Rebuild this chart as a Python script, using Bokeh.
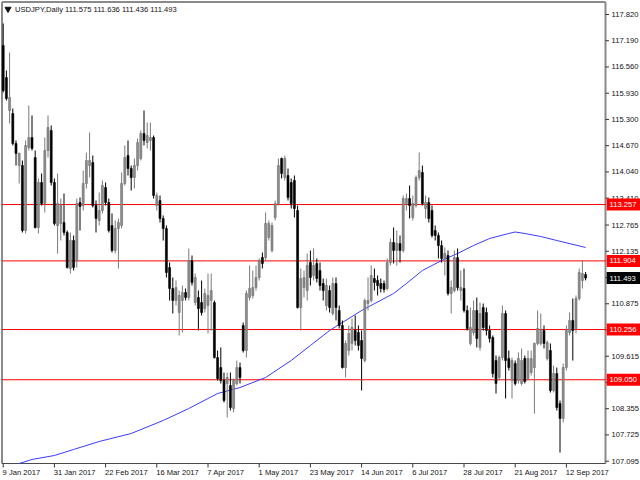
from bokeh.plotting import figure
from bokeh.models import Range1d
from bokeh.embed import file_html
from bokeh.resources import INLINE
from bokeh.core.properties import value

title_text = "USDJPY,Daily  111.575 111.636 111.436 111.493"

opens = [117.075, 116.307, 115.515, 115.443, 114.723, 114.194, 114.194, 112.634, 114.627, 114.867,
         114.386, 112.706, 113.786, 113.282, 114.554, 115.035, 113.786, 112.754, 112.802, 112.826,
         112.586, 111.721, 112.394, 111.913, 113.306, 113.234, 113.762, 114.194, 114.266, 113.234,
         112.874, 113.114, 113.666, 113.306, 112.754, 112.153, 112.682, 112.754, 113.762, 114.434,
         114.122, 113.906, 114.194, 114.362, 114.963, 114.747, 114.795, 114.867, 113.234, 113.354,
         112.922, 112.682, 111.745, 111.241, 110.953, 110.665, 110.953, 111.145, 111.025, 111.913,
         110.905, 111.025, 110.905, 110.761, 110.833, 110.953, 110.905, 109.584, 109.344, 109.032,
         108.960, 108.912, 108.360, 108.960, 109.344, 110.353, 109.752, 111.025, 111.073, 111.265,
         111.505, 111.985, 111.985, 112.466, 112.153, 112.946, 113.282, 114.362, 113.906, 113.954,
         113.786, 113.834, 113.114, 110.785, 111.265, 111.193, 111.865, 111.553, 111.841, 111.673,
         111.361, 110.833, 111.193, 110.641, 111.361, 110.713, 110.353, 109.344, 109.752, 109.921,
         110.233, 110.185, 109.993, 109.512, 110.881, 110.953, 111.481, 111.433, 111.361, 111.361,
         111.241, 111.865, 112.346, 112.153, 112.322, 112.153, 113.282, 113.402, 112.946, 113.234,
         113.906, 114.026, 113.162, 113.306, 113.114, 112.634, 112.514, 112.274, 111.961, 112.033,
         111.121, 111.193, 111.985, 111.193, 111.241, 110.713, 109.921, 110.185, 110.713, 109.825,
         110.785, 110.665, 110.233, 110.065, 109.512, 109.104, 109.584, 110.641, 109.560, 109.032,
         109.440, 109.032, 108.960, 109.560, 109.080, 109.224, 109.344, 109.921, 109.921, 110.233,
         109.560, 109.752, 108.792, 109.200, 108.480, 108.120, 109.344, 110.185, 110.473, 110.281,
         111.001, 111.433, 111.575]
highs = [117.604, 116.475, 116.907, 115.563, 114.795, 114.506, 114.314, 114.795, 115.635, 115.395,
         114.554, 113.882, 114.002, 114.867, 115.395, 115.155, 113.882, 114.002, 113.402, 113.522,
         112.634, 112.586, 112.514, 113.402, 113.426, 114.074, 114.506, 114.987, 114.434, 113.354,
         113.546, 113.834, 113.786, 113.402, 113.042, 112.874, 112.922, 114.026, 114.675, 114.795,
         114.194, 114.362, 114.843, 115.035, 115.515, 115.227, 115.227, 114.915, 113.546, 113.474,
         112.994, 112.754, 111.865, 111.505, 111.433, 111.193, 111.313, 111.241, 112.202, 112.033,
         111.601, 111.193, 111.433, 111.241, 111.601, 111.601, 110.953, 109.752, 109.825, 109.224,
         109.224, 109.224, 109.080, 109.512, 109.464, 110.425, 111.193, 111.793, 111.673, 111.793,
         111.961, 112.105, 113.066, 112.874, 112.826, 113.354, 114.362, 114.386, 114.434, 114.122,
         113.882, 113.954, 113.234, 111.721, 111.673, 112.081, 112.153, 112.202, 111.961, 111.865,
         111.481, 111.481, 111.313, 111.505, 111.505, 110.833, 110.473, 109.993, 110.353, 110.521,
         110.593, 110.353, 110.233, 111.001, 111.505, 111.793, 111.721, 111.553, 111.481, 111.433,
         111.961, 112.442, 112.706, 112.634, 112.514, 113.474, 113.522, 113.714, 113.474, 113.954,
         114.506, 114.194, 113.474, 113.426, 113.234, 112.754, 112.586, 112.394, 112.226, 112.153,
         111.433, 112.153, 112.202, 111.673, 111.721, 110.833, 110.785, 110.953, 111.025, 110.905,
         110.881, 110.785, 110.353, 110.113, 109.632, 109.632, 110.833, 110.713, 109.752, 109.584,
         109.512, 109.704, 109.801, 109.632, 109.752, 109.752, 109.945, 110.713, 110.641, 110.353,
         109.993, 109.921, 109.392, 109.344, 108.552, 109.440, 110.353, 110.665, 111.001, 111.073,
         111.721, 111.913, 111.636]
lows = [115.947, 115.755, 115.203, 114.675, 114.194, 113.762, 112.586, 112.562, 114.554, 114.554,
        112.682, 112.562, 113.234, 113.066, 114.386, 113.714, 112.754, 112.081, 112.394, 112.514,
        111.721, 111.601, 111.673, 111.745, 112.634, 113.114, 113.642, 113.906, 113.186, 112.586,
        112.754, 113.042, 113.234, 112.586, 112.105, 112.081, 111.721, 112.682, 113.714, 113.954,
        113.594, 113.642, 114.074, 114.314, 114.675, 114.603, 114.554, 113.402, 113.114, 112.826,
        112.394, 111.505, 110.953, 110.641, 110.833, 110.113, 110.185, 110.953, 110.953, 111.313,
        110.833, 110.233, 110.593, 110.665, 110.161, 110.233, 109.560, 109.032, 108.960, 108.504,
        108.144, 108.312, 108.264, 108.912, 108.960, 109.704, 109.584, 110.953, 111.001, 111.193,
        111.433, 111.721, 111.913, 112.394, 112.105, 112.874, 113.234, 113.882, 113.834, 113.354,
        113.162, 112.946, 110.761, 110.233, 111.025, 110.953, 111.313, 111.433, 111.385, 111.193,
        110.953, 110.713, 110.665, 110.593, 110.473, 110.281, 109.320, 109.104, 109.632, 109.752,
        109.873, 109.752, 108.792, 109.464, 110.713, 110.905, 111.193, 111.073, 111.145, 111.145,
        111.193, 111.793, 111.841, 111.793, 111.865, 112.105, 113.114, 112.922, 112.874, 113.186,
        113.834, 113.234, 112.922, 112.826, 112.466, 112.394, 111.961, 111.865, 111.553, 111.073,
        110.641, 111.145, 111.193, 110.953, 110.665, 110.233, 109.873, 110.113, 109.825, 109.752,
        110.233, 110.113, 109.945, 109.104, 108.720, 109.032, 109.512, 108.600, 109.272, 108.600,
        108.912, 108.960, 108.912, 108.960, 109.032, 109.152, 108.240, 109.873, 109.873, 109.801,
        109.512, 108.744, 108.744, 108.312, 107.303, 108.024, 109.272, 110.113, 109.512, 110.161,
        110.953, 111.241, 111.436]
closes = [115.995, 115.803, 115.827, 114.723, 114.482, 114.482, 112.634, 114.675, 114.867, 114.603,
          112.706, 113.786, 113.282, 114.554, 115.107, 113.786, 112.802, 113.282, 113.234, 112.586,
          111.745, 112.394, 111.745, 113.282, 113.210, 113.762, 114.314, 114.314, 113.234, 112.922,
          113.114, 113.714, 113.306, 112.634, 112.153, 112.682, 112.826, 113.762, 114.386, 114.122,
          113.906, 114.194, 114.747, 114.963, 114.795, 114.915, 114.867, 113.474, 113.474, 112.922,
          112.682, 111.625, 111.241, 110.953, 111.265, 111.073, 111.145, 111.025, 111.913, 111.385,
          111.505, 110.761, 110.665, 111.121, 111.073, 111.193, 109.584, 109.080, 109.032, 108.552,
          109.104, 108.384, 109.032, 109.344, 109.104, 109.752, 111.121, 111.241, 111.265, 111.505,
          111.913, 111.841, 112.802, 112.802, 112.754, 113.282, 114.194, 114.002, 114.362, 113.426,
          113.282, 113.162, 110.785, 111.481, 111.505, 111.793, 111.505, 111.793, 111.481, 111.313,
          111.193, 111.313, 110.785, 111.361, 110.785, 110.353, 109.344, 109.921, 110.161, 110.305,
          109.993, 109.873, 109.560, 110.953, 110.953, 111.553, 111.385, 111.313, 111.241, 111.217,
          111.865, 112.346, 112.153, 112.322, 112.153, 113.402, 113.402, 113.234, 113.282, 113.906,
          114.074, 113.282, 113.306, 112.922, 112.514, 112.514, 112.274, 111.961, 112.081, 111.121,
          111.265, 111.985, 111.265, 111.265, 110.713, 110.281, 110.305, 110.713, 110.041, 110.641,
          110.305, 110.233, 110.041, 109.200, 108.960, 109.584, 110.641, 109.512, 109.344, 109.512,
          108.960, 109.560, 109.512, 109.008, 109.560, 109.560, 109.921, 110.281, 110.233, 109.921,
          109.945, 108.792, 109.200, 108.384, 108.120, 109.344, 110.233, 110.473, 110.233, 111.001,
          111.625, 111.601, 111.493]

ma_index = [5, 9, 16, 22, 30, 40, 50, 58, 67, 74, 82, 90, 96, 102, 112, 122, 126, 131, 137,
            142, 147, 152, 158, 160, 163, 168, 173, 182]
ma_value = [107.040, 107.136, 107.232, 107.376, 107.568, 107.760, 108.072, 108.360, 108.720,
            108.864, 109.104, 109.513, 109.873, 110.233, 110.713, 111.121, 111.361, 111.673,
            111.913, 112.082, 112.274, 112.442, 112.562, 112.598, 112.562, 112.490, 112.394, 112.226]

level_prices = [113.257, 111.904, 110.256, 109.050]
level_labels = ["113.257", "111.904", "110.256", "109.050"]
last_price = 111.493
last_label = "111.493"

y_ticks = [117.820, 117.190, 116.560, 115.930, 115.300, 114.670, 114.040, 113.410, 112.765,
           112.135, 111.505, 110.875, 110.245, 109.615, 108.985, 108.355, 107.725, 107.095]
y_tick_labels = ["117.820", "117.190", "116.560", "115.930", "115.300", "114.670", "114.040",
                 "113.410", "112.765", "112.135", "111.505", "110.875", "110.245", "109.615",
                 "108.985", "108.355", "107.725", "107.095"]
x_tick_index = [0, 16, 32, 48, 64, 80, 96, 112, 128, 144, 160, 176]
x_tick_labels = ["9 Jan 2017", "31 Jan 2017", "22 Feb 2017", "16 Mar 2017", "7 Apr 2017",
                 "1 May 2017", "23 May 2017", "14 Jun 2017", "6 Jul 2017", "28 Jul 2017",
                 "21 Aug 2017", "12 Sep 2017"]

# ---- layout (pixel geometry converted through the scales) ----
W, H = 640, 480
PX = 1 / 3.2        # bars per pixel
PY = 1 / 41.65      # price per pixel
X_START = -2.7 * PX
X_END = X_START + W * PX
Y_END = 118.156
Y_START = Y_END - H * PY
L = X_START + 1.5 * PX
R = X_START + 605 * PX
T = Y_END - 1.5 * PY
B = Y_END - 463 * PY

FONT = value("Liberation Sans")
TXT = "#111111"
BULL = "#8c8c8c"
BULL_EDGE = "#6e6e6e"
BEAR = "#000000"

p = figure(width=W, height=H, x_range=Range1d(X_START, X_END), y_range=Range1d(Y_START, Y_END),
           output_backend="svg", toolbar_location=None, x_axis_type=None, y_axis_type=None,
           min_border=0)
p.styles = {"position": "absolute", "left": "0px", "top": "0px"}
p.background_fill_color = "white"
p.border_fill_color = "white"
p.outline_line_color = None
p.grid.visible = False

# chart border
p.segment(x0=[L, L], y0=[B, T], x1=[L, R], y1=[T, T], line_color="#8a8a8a", line_width=2)
p.segment(x0=[R], y0=[B], x1=[R], y1=[T], line_color="#8a8a8a", line_width=2)
p.segment(x0=[L], y0=[B], x1=[R], y1=[B], line_color="#4a4a4a", line_width=1)

# price scale (right)
p.segment(x0=[R] * len(y_ticks), y0=y_ticks, x1=[R + 3.5 * PX] * len(y_ticks), y1=y_ticks,
          line_color="#333333", line_width=1)
p.text(x=[R + 6 * PX] * len(y_ticks), y=y_ticks, text=y_tick_labels, text_font=FONT,
       text_font_size="7.6px", text_baseline="middle", text_align="left", text_color=TXT)

# time scale (bottom)
p.segment(x0=x_tick_index, y0=[B] * len(x_tick_index), x1=x_tick_index,
          y1=[B - 4 * PY] * len(x_tick_index), line_color="#333333", line_width=1)
p.text(x=[t - 0.2 for t in x_tick_index], y=[B - 4.5 * PY] * len(x_tick_index),
       text=x_tick_labels, text_font=FONT, text_font_size="7.6px", text_baseline="top",
       text_align="left", text_color=TXT)

# horizontal levels
p.segment(x0=[L] * len(level_prices), y0=level_prices, x1=[R] * len(level_prices),
          y1=level_prices, line_color="#ff0000", line_width=1)

# moving average
p.line(ma_index, ma_value, line_color="#3b3bff", line_width=1)

# candles
n = len(opens)
xs = list(range(n))
up_idx = [i for i in xs if closes[i] >= opens[i]]
dn_idx = [i for i in xs if closes[i] < opens[i]]


def col(arr, idx):
    return [arr[i] for i in idx]


p.segment(x0=up_idx, y0=col(highs, up_idx), x1=up_idx, y1=col(lows, up_idx),
          line_color="#7a7a7a", line_width=1)
p.segment(x0=dn_idx, y0=col(highs, dn_idx), x1=dn_idx, y1=col(lows, dn_idx),
          line_color=BEAR, line_width=1)
p.vbar(x=up_idx, width=0.62, top=col(closes, up_idx), bottom=col(opens, up_idx),
       fill_color=BULL, line_color=BULL_EDGE, line_width=0.6)
p.vbar(x=dn_idx, width=0.62, top=col(opens, dn_idx), bottom=col(closes, dn_idx),
       fill_color=BEAR, line_color=BEAR, line_width=0.6)

# price tags on the scale
tag_prices = level_prices + [last_price]
tag_text = level_labels + [last_label]
tag_fill = ["#ff0000"] * len(level_prices) + ["#000000"]
p.quad(left=[R + 1.2 * PX] * len(tag_prices), right=[X_END] * len(tag_prices),
       top=[v + 6 * PY for v in tag_prices], bottom=[v - 6 * PY for v in tag_prices],
       fill_color=tag_fill, line_color=None)
p.text(x=[R + 4 * PX] * len(tag_prices), y=tag_prices, text=tag_text, text_font=FONT,
       text_font_size="7.6px", text_baseline="middle", text_align="left", text_color="white")

# title
p.scatter(x=[L + 6 * PX], y=[T - 7 * PY], marker="inverted_triangle", size=6,
          fill_color=TXT, line_color=TXT)
p.text(x=[L + 13 * PX], y=[T - 3 * PY], text=[title_text], text_font=FONT,
       text_font_size="7.6px", text_baseline="top", text_align="left", text_color=TXT)

open("out.html", "w").write(file_html(p, INLINE))
